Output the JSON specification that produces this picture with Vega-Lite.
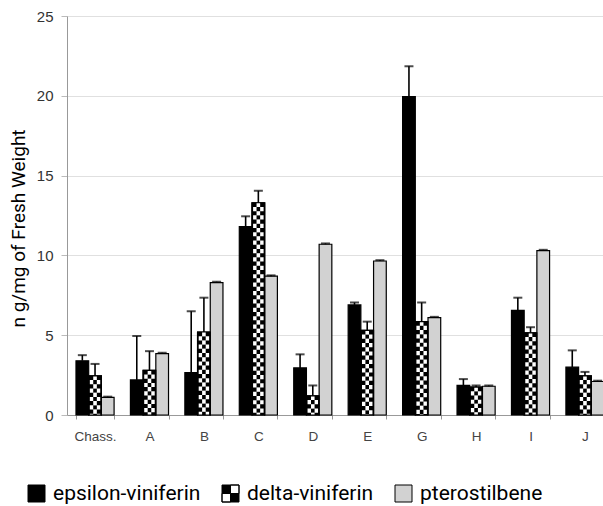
{
  "$schema": "https://vega.github.io/schema/vega-lite/v6.json",
  "autosize": "none",
  "width": 546,
  "height": 399,
  "padding": {"left": 67, "top": 16, "right": 0, "bottom": 91},
  "background": "white",
  "config": {"view": {"stroke": null}},
  "data": {
    "values": [
      {"group": "Chass.", "series": "epsilon-viniferin", "value": 3.4, "upper": 3.75},
      {"group": "Chass.", "series": "delta-viniferin", "value": 2.45, "upper": 3.2},
      {"group": "Chass.", "series": "pterostilbene", "value": 1.1, "upper": 1.15},
      {"group": "A", "series": "epsilon-viniferin", "value": 2.2, "upper": 4.95},
      {"group": "A", "series": "delta-viniferin", "value": 2.8, "upper": 4.0},
      {"group": "A", "series": "pterostilbene", "value": 3.85, "upper": 3.9},
      {"group": "B", "series": "epsilon-viniferin", "value": 2.65, "upper": 6.5},
      {"group": "B", "series": "delta-viniferin", "value": 5.2, "upper": 7.35},
      {"group": "B", "series": "pterostilbene", "value": 8.3, "upper": 8.35},
      {"group": "C", "series": "epsilon-viniferin", "value": 11.8, "upper": 12.45},
      {"group": "C", "series": "delta-viniferin", "value": 13.3, "upper": 14.05},
      {"group": "C", "series": "pterostilbene", "value": 8.7, "upper": 8.75},
      {"group": "D", "series": "epsilon-viniferin", "value": 2.95, "upper": 3.8},
      {"group": "D", "series": "delta-viniferin", "value": 1.2, "upper": 1.85},
      {"group": "D", "series": "pterostilbene", "value": 10.7, "upper": 10.75},
      {"group": "E", "series": "epsilon-viniferin", "value": 6.9, "upper": 7.05},
      {"group": "E", "series": "delta-viniferin", "value": 5.3, "upper": 5.85},
      {"group": "E", "series": "pterostilbene", "value": 9.65, "upper": 9.7},
      {"group": "G", "series": "epsilon-viniferin", "value": 19.95, "upper": 21.85},
      {"group": "G", "series": "delta-viniferin", "value": 5.85, "upper": 7.05},
      {"group": "G", "series": "pterostilbene", "value": 6.1, "upper": 6.15},
      {"group": "H", "series": "epsilon-viniferin", "value": 1.85, "upper": 2.25},
      {"group": "H", "series": "delta-viniferin", "value": 1.75, "upper": 1.85},
      {"group": "H", "series": "pterostilbene", "value": 1.8, "upper": 1.85},
      {"group": "I", "series": "epsilon-viniferin", "value": 6.55, "upper": 7.35},
      {"group": "I", "series": "delta-viniferin", "value": 5.15, "upper": 5.5},
      {"group": "I", "series": "pterostilbene", "value": 10.3, "upper": 10.35},
      {"group": "J", "series": "epsilon-viniferin", "value": 3.0, "upper": 4.05},
      {"group": "J", "series": "delta-viniferin", "value": 2.45, "upper": 2.7},
      {"group": "J", "series": "pterostilbene", "value": 2.1, "upper": 2.15}
    ]
  },
  "encoding": {
    "x": {
      "field": "group", "type": "nominal", "sort": null,
      "scale": {"paddingInner": 0.3, "paddingOuter": 0.165},
      "axis": {
        "title": null, "labelAngle": 0, "tickBand": "extent",
        "domainColor": "#999", "tickColor": "#999", "tickSize": 4,
        "labelFont": "Liberation Sans", "labelFontSize": 13.5, "labelColor": "#444",
        "labelPadding": 10, "grid": false
      }
    },
    "xOffset": {
      "field": "series", "type": "nominal",
      "scale": {"domain": ["epsilon-viniferin", "delta-viniferin", "pterostilbene"], "paddingInner": 0}
    }
  },
  "layer": [
    {
      "mark": {"type": "bar", "stroke": "black", "strokeWidth": 1.2},
      "encoding": {
        "y": {
          "field": "value", "type": "quantitative",
          "scale": {"domain": [0, 25], "nice": false},
          "axis": {
            "values": [0, 5, 10, 15, 20, 25],
            "title": "n g/mg of Fresh Weight",
            "titleFont": "Roboto", "titleFontSize": 19, "titleFontWeight": "normal", "titleColor": "black",
            "titleAngle": -90, "titleX": -49, "titleY": 212, "titleAlign": "center", "titleBaseline": "middle",
            "gridColor": "#e0e0e0", "domainColor": "#999", "tickColor": "#bbb", "tickSize": 6,
            "labelFont": "Liberation Sans", "labelFontSize": 15, "labelColor": "#333", "labelPadding": 8
          }
        },
        "color": {
          "field": "series", "type": "nominal",
          "scale": {"domain": ["epsilon-viniferin", "delta-viniferin", "pterostilbene"], "range": ["#000000", "#000000", "#d2d2d2"]},
          "legend": {
            "title": null, "orient": "none", "direction": "horizontal",
            "legendX": -41, "legendY": 467, "padding": 0,
            "symbolType": "square", "symbolSize": 289, "symbolStrokeWidth": 1, "symbolStrokeColor": "black",
            "labelFont": "Roboto", "labelFontSize": 21, "labelColor": "black", "labelOffset": 6,
            "columnPadding": 19, "labelLimit": 400,
            "encode": {
              "symbols": {
                "update": {
                  "shape": [
                    {"test": "datum.value === 'delta-viniferin'", "value": "M-1,-1H1V1H-1Z M0,-1V0H1V-1Z M-1,0V1H0V0Z"},
                    {"value": "square"}
                  ],
                  "stroke": {"value": "black"},
                  "strokeWidth": {"value": 1}
                }
              }
            }
          }
        }
      }
    },
    {
      "transform": [{"filter": "datum.series === 'delta-viniferin'"}],
      "mark": {"type": "rule", "color": "white", "strokeWidth": 10.5, "strokeDash": [4.2, 4.2], "strokeDashOffset": 4.2},
      "encoding": {"y": {"field": "value", "type": "quantitative"}, "y2": {"datum": 0}}
    },
    {
      "transform": [{"filter": "datum.series === 'delta-viniferin'"}],
      "mark": {"type": "rule", "color": "black", "strokeWidth": 3.6, "strokeDash": [4.2, 4.2], "strokeDashOffset": 4.2},
      "encoding": {"y": {"field": "value", "type": "quantitative"}, "y2": {"datum": 0}}
    },
    {
      "transform": [{"filter": "datum.series === 'delta-viniferin'"}],
      "mark": {"type": "rule", "color": "white", "strokeWidth": 3.6, "strokeDash": [4.2, 4.2]},
      "encoding": {"y": {"field": "value", "type": "quantitative"}, "y2": {"datum": 0}}
    },
    {
      "transform": [{"filter": "datum.series === 'delta-viniferin'"}],
      "mark": {"type": "bar", "fill": null, "fillOpacity": 0, "stroke": "black", "strokeWidth": 1.2},
      "encoding": {"y": {"field": "value", "type": "quantitative"}}
    },
    {
      "mark": {"type": "rule", "color": "black", "strokeWidth": 1.6},
      "encoding": {"y": {"field": "value", "type": "quantitative"}, "y2": {"field": "upper"}}
    },
    {
      "mark": {"type": "tick", "color": "black", "size": 9, "thickness": 2},
      "encoding": {"y": {"field": "upper", "type": "quantitative"}}
    }
  ]
}
